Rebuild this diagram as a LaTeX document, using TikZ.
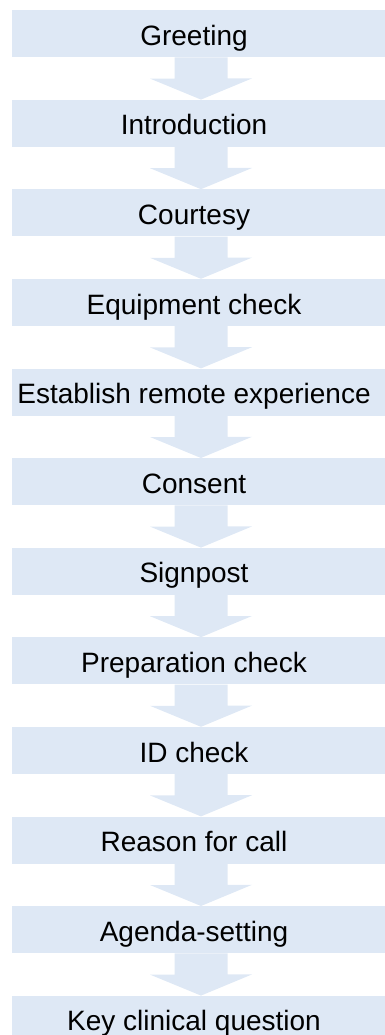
\documentclass[tikz,border=0pt]{standalone}
\usepackage{fontspec}
\setmainfont{Liberation Sans}
\usepackage{tikz}
\usetikzlibrary{positioning}
\definecolor{stagefill}{RGB}{222,232,245}

\begin{document}
\begin{tikzpicture}[stage/.style={fill=stagefill,rectangle,minimum
width=378pt,minimum height=47pt,inner sep=0pt,text=black,
text height=23pt,text depth=0pt,execute at begin node={\hspace*{-14pt}},
font=\fontsize{28}{33}\selectfont},flow/.style={fill=stagefill},
node distance=42.2pt]
\clip (0,0) rectangle (385pt,-1035pt);
\useasboundingbox (0,0) rectangle (385pt,-1035pt);
\node[stage,anchor=north] (greet) at (201pt,-10pt) {Greeting};
\node[stage,below=of greet] (intro) {Introduction};
\node[stage,below=of intro] (court) {Courtesy};
\node[stage,below=of court] (equip) {Equipment check};
\node[stage,below=of equip] (remote) {Establish remote experience};
\node[stage,below=of remote] (consent) {Consent};
\node[stage,below=of consent] (sign) {Signpost};
\node[stage,below=of sign] (prep) {Preparation check};
\node[stage,below=of prep] (id) {ID check};
\node[stage,below=of id] (reason) {Reason for call};
\node[stage,below=of reason] (agenda) {Agenda-setting};
\node[stage,below=of agenda] (key) {Key clinical question};
% block arrows between the stages
\foreach \a/\b in {greet/intro,intro/court,court/equip,equip/remote,
  remote/consent,consent/sign,sign/prep,prep/id,id/reason,
  reason/agenda,agenda/key}
  \fill[flow] ([xshift=-26.5pt]\a.south) -- ([xshift=26.5pt]\a.south)
    -- ++(0,-21pt) -- ++(24.5pt,0) -- (\b.north) -- ++(-51pt,21pt)
    -- ++(24.5pt,0) -- cycle;
\end{tikzpicture}
\end{document}
